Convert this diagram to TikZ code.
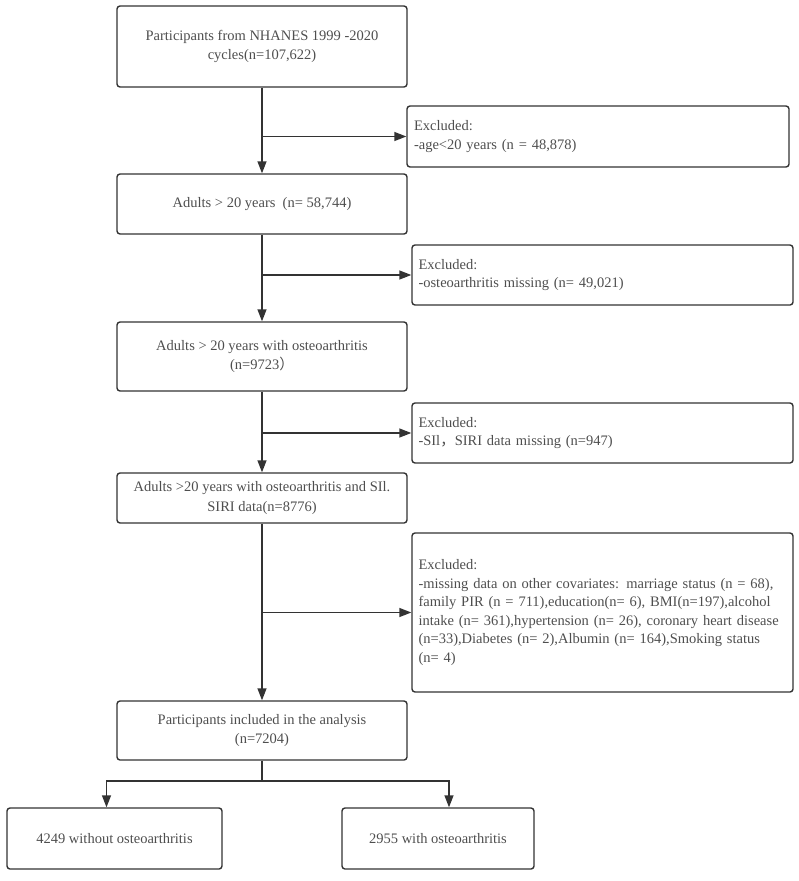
\documentclass[tikz,border=0pt]{standalone}
\usepackage{fontspec}
\setmainfont{Liberation Serif}
\newfontfamily\cjk{Noto Sans CJK SC}
\definecolor{lineg}{RGB}{51,51,51}
\definecolor{textg}{RGB}{78,78,78}
\usetikzlibrary{arrows.meta}
\newcommand\exfont{\hyphenpenalty=10000\relax\fontsize{14.5}{18.5}\selectfont}

\begin{document}
\begin{tikzpicture}[x=1pt, y=-1pt,
  box/.style={draw=lineg, line width=1.4pt, rounded corners=3pt, minimum width=290pt, align=center, text=textg, font=\fontsize{14.5}{19.5}\selectfont, inner sep=0pt},
  exbox/.style={box, minimum width=381pt, text width=368pt, align=left, font=\exfont},
  outbox/.style={box, minimum height=61pt},
  arrow/.style={-{Triangle[length=12pt,width=9pt]}, line width=1.4pt, lineg}
]
\useasboundingbox (0,0) rectangle (798,881);
\node[box, minimum height=81pt] (start) at (262,46.5) {Participants from NHANES 1999 -2020\\cycles(n=107,622)};
\node[box, minimum height=60pt] (adults) at (262,204) {Adults > 20 years~~(n= 58,744)};
\node[box, minimum height=69pt] (oa) at (262,356.5) {Adults > 20 years with osteoarthritis\\(n=9723{\cjk ）}};
\node[box, minimum height=50pt] (siri) at (262,498) {Adults >20 years with osteoarthritis and SIl.\\SIRI data(n=8776)};
\node[box, minimum height=59pt] (incl) at (262,730.5) {Participants included in the analysis\\(n=7204)};
\node[exbox, minimum width=382pt, minimum height=61pt] (ex1) at (598,136.5) {Excluded:\\-age<20 years (n = 48,878)};
\node[exbox, minimum height=60pt] (ex2) at (602.5,275) {Excluded:\\-osteoarthritis missing (n= 49,021)};
\node[exbox, minimum height=60pt] (ex3) at (602.5,433) {Excluded:\\-SIl{\cjk ，}SIRI data missing (n=947)};
\node[exbox, minimum height=159pt] (ex4) at (602.5,612.5) {Excluded:\\-missing data on other covariates: marriage status (n = 68),\\family PIR (n = 711),education(n= 6), BMI(n=197),alcohol\\intake (n= 361),hypertension (n= 26), coronary heart disease\\(n=33),Diabetes (n= 2),Albumin (n= 164),Smoking status\\(n= 4)};
\node[outbox, minimum width=215pt] (noOA) at (114.5,838.5) {4249 without osteoarthritis};
\node[outbox, minimum width=192pt] (withOA) at (438,838.5) {2955 with osteoarthritis};
\coordinate (split) at (262,781);

\draw[arrow] (start) -- (adults);
\draw[arrow] (adults) -- (oa);
\draw[arrow] (oa) -- (siri);
\draw[arrow] (siri) -- (incl);
\draw[arrow] (start.south |- ex1.west) -- (ex1.west);
\draw[arrow] (adults.south |- ex2.west) -- (ex2.west);
\draw[arrow] (oa.south |- ex3.west) -- (ex3.west);
\draw[arrow] (siri.south |- ex4.west) -- (ex4.west);
\draw[line width=1.4pt, lineg] (incl) -- (split);
\draw[arrow] (split) -| ([xshift=-8pt]noOA.north);
\draw[arrow] (split) -| ([xshift=11pt]withOA.north);
\end{tikzpicture}
\end{document}
